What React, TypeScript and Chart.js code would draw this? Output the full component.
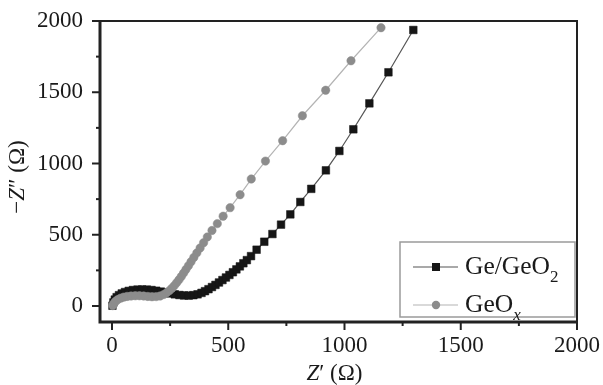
import React, { useEffect, useRef } from 'react';
import { Chart, registerables } from 'chart.js';

Chart.register(...registerables);

// Ge/GeO2 (black squares): Z' and -Z'' in ohms
const geGeO2Zre = [2, 6, 12, 20, 30, 42, 56, 72, 90, 110, 130, 150, 170, 190, 210, 230, 250, 270, 290, 310, 330, 350, 368, 385, 400, 415, 430, 445, 460, 475, 490, 505, 520, 535, 550, 565, 580, 598, 622, 655, 690, 727, 767, 810, 857, 920, 978, 1038, 1107, 1189, 1296];
const geGeO2Zim = [2, 25, 45, 62, 76, 88, 98, 106, 112, 115, 116, 115, 112, 107, 101, 95, 88, 82, 77, 74, 73, 76, 82, 92, 104, 118, 133, 148, 165, 182, 200, 218, 237, 257, 278, 300, 322, 350, 395, 451, 505, 571, 643, 730, 822, 952, 1088, 1240, 1422, 1640, 1937];

// GeOx (grey circles)
const geOxZre = [3, 8, 15, 25, 37, 50, 65, 82, 100, 118, 136, 154, 172, 190, 207, 222, 235, 247, 258, 268, 278, 288, 298, 308, 318, 329, 340, 352, 365, 379, 394, 410, 430, 453, 478, 508, 551, 599, 660, 734, 819, 919, 1028, 1157];
const geOxZim = [3, 18, 32, 45, 55, 62, 67, 70, 72, 72, 70, 67, 65, 66, 70, 80, 93, 108, 125, 143, 163, 184, 207, 231, 256, 283, 311, 341, 373, 407, 444, 484, 530, 578, 630, 690, 781, 891, 1017, 1160, 1335, 1514, 1721, 1953];

const xTickValues = [0, 500, 1000, 1500, 2000];
const yTickValues = [0, 500, 1000, 1500, 2000];
const minorTickValues = [250, 750, 1250, 1750];

const seriesLabels = ['Ge/GeO2', 'GeOx'];
type Seg = { t: string; sub?: boolean; italic?: boolean };
const legendSegments: Seg[][] = [
  [{ t: 'Ge/GeO' }, { t: '2', sub: true }],
  [{ t: 'GeO' }, { t: 'x', sub: true, italic: true }],
];
const xTitle: Seg[] = [{ t: 'Z', italic: true }, { t: '\u2032 (\u03A9)' }];
const yTitle: Seg[] = [{ t: '\u2212' }, { t: 'Z', italic: true }, { t: '\u2033 (\u03A9)' }];

const FONT = '"Liberation Serif", "Times New Roman", serif';
const AXIS = '#222';

function segFont(s: Seg, size: number) {
  const sz = s.sub ? Math.round(size * 0.68) : size;
  return `${s.italic ? 'italic ' : ''}${sz}px ${FONT}`;
}

function drawSegs(ctx: CanvasRenderingContext2D, segs: Seg[], x: number, y: number, size: number, align: 'left' | 'center') {
  let total = 0;
  const widths = segs.map((s) => {
    ctx.font = segFont(s, size);
    const w = ctx.measureText(s.t).width;
    total += w;
    return w;
  });
  let cx = align === 'center' ? x - total / 2 : x;
  ctx.textAlign = 'left';
  ctx.textBaseline = 'alphabetic';
  segs.forEach((s, i) => {
    ctx.font = segFont(s, size);
    ctx.fillText(s.t, cx, s.sub ? y + size * 0.3 : y);
    cx += widths[i];
  });
}

const decorPlugin = {
  id: 'decor',
  afterDraw(chart: any) {
    const { ctx, chartArea: ca, scales } = chart;
    const xs = scales.x;
    const ys = scales.y;
    ctx.save();
    ctx.strokeStyle = AXIS;
    ctx.fillStyle = AXIS;
    // frame
    ctx.lineWidth = 2;
    ctx.beginPath();
    ctx.moveTo(ca.left, ca.top);
    ctx.lineTo(ca.right, ca.top);
    ctx.lineTo(ca.right, ca.bottom);
    ctx.stroke();
    ctx.lineWidth = 3;
    ctx.beginPath();
    ctx.moveTo(ca.left, ca.top - 1);
    ctx.lineTo(ca.left, ca.bottom);
    ctx.lineTo(ca.right + 1, ca.bottom);
    ctx.stroke();
    // ticks
    ctx.lineWidth = 2;
    const drawTick = (v: number, len: number) => {
      const px = xs.getPixelForValue(v);
      ctx.beginPath();
      ctx.moveTo(px, ca.bottom);
      ctx.lineTo(px, ca.bottom + len);
      ctx.stroke();
      const py = ys.getPixelForValue(v);
      ctx.beginPath();
      ctx.moveTo(ca.left, py);
      ctx.lineTo(ca.left - len, py);
      ctx.stroke();
    };
    xTickValues.forEach((v) => drawTick(v, 8));
    minorTickValues.forEach((v) => drawTick(v, 4));

    // axis titles
    ctx.fillStyle = '#1a1a1a';
    drawSegs(ctx, xTitle, (ca.left + ca.right) / 2 - 4, 380, 23, 'center');
    ctx.save();
    ctx.translate(24, 177);
    ctx.rotate(-Math.PI / 2);
    drawSegs(ctx, yTitle, 0, 0, 23, 'center');
    ctx.restore();

    // legend
    const lx = 400;
    const ly = 242;
    const lr = ca.right - 2;
    const lb = 317;
    ctx.fillStyle = '#fff';
    ctx.fillRect(lx, ly, lr - lx, lb - ly);
    ctx.strokeStyle = '#9a9a9a';
    ctx.lineWidth = 1.5;
    ctx.strokeRect(lx, ly, lr - lx, lb - ly);
    const rows = [267, 305];
    chart.data.datasets.forEach((ds: any) => {
      const idx = ds.legendIndex;
      const ry = rows[idx];
      ctx.strokeStyle = ds.borderColor;
      ctx.lineWidth = 1.2;
      ctx.beginPath();
      ctx.moveTo(413, ry);
      ctx.lineTo(458, ry);
      ctx.stroke();
      ctx.fillStyle = ds.pointBackgroundColor;
      if (ds.pointStyle === 'rect') {
        ctx.fillRect(436 - 4, ry - 4, 8, 8);
      } else {
        ctx.beginPath();
        ctx.arc(436, ry, 4.2, 0, Math.PI * 2);
        ctx.fill();
      }
      ctx.fillStyle = '#1a1a1a';
      drawSegs(ctx, legendSegments[idx], 465, ry + 7, 25.5, 'left');
    });
    ctx.restore();
  },
};

const zeroPad = (s: any) => {
  s.paddingTop = 0;
  s.paddingBottom = 0;
  s.paddingLeft = 0;
  s.paddingRight = 0;
};

export default function App() {
  const ref = useRef<HTMLCanvasElement | null>(null);
  useEffect(() => {
    if (!ref.current) return;
    const chart = new Chart(ref.current, {
      type: 'scatter',
      data: {
        datasets: [
          {
            label: seriesLabels[1],
            legendIndex: 1,
            data: geOxZre.map((x, i) => ({ x, y: geOxZim[i] })),
            showLine: true,
            borderColor: '#b4b4b4',
            borderWidth: 1.2,
            pointStyle: 'circle',
            pointRadius: 4.2,
            pointBackgroundColor: '#8c8c8c',
            pointBorderColor: '#8c8c8c',
            pointBorderWidth: 0.5,
            order: 0,
          } as any,
          {
            label: seriesLabels[0],
            legendIndex: 0,
            data: geGeO2Zre.map((x, i) => ({ x, y: geGeO2Zim[i] })),
            showLine: true,
            borderColor: '#555555',
            borderWidth: 1.2,
            pointStyle: 'rect',
            pointRadius: 5.4,
            pointBackgroundColor: '#161616',
            pointBorderColor: '#161616',
            pointBorderWidth: 0.5,
            order: 1,
          } as any,
        ],
      },
      options: {
        animation: false,
        responsive: false,
        devicePixelRatio: 1,
        layout: { padding: { top: 21, right: 26, left: 0, bottom: 0 } },
        plugins: { legend: { display: false }, tooltip: { enabled: false } },
        scales: {
          x: {
            type: 'linear',
            min: -51.6,
            max: 2000,
            grid: { display: false, drawTicks: false },
            border: { display: false },
            afterBuildTicks: (s: any) => {
              s.ticks = xTickValues.map((v) => ({ value: v }));
            },
            afterFit: (s: any) => {
              s.height = 63;
              zeroPad(s);
            },
            ticks: {
              padding: 10,
              maxRotation: 0,
              autoSkip: false,
              color: '#1a1a1a',
              font: { family: FONT, size: 23 },
              callback: (v: any) => String(v),
            },
          },
          y: {
            type: 'linear',
            min: -112.3,
            max: 2000,
            grid: { display: false, drawTicks: false },
            border: { display: false },
            afterBuildTicks: (s: any) => {
              s.ticks = yTickValues.map((v) => ({ value: v }));
            },
            afterFit: (s: any) => {
              s.width = 100;
              zeroPad(s);
            },
            ticks: {
              padding: 17,
              autoSkip: false,
              color: '#1a1a1a',
              font: { family: FONT, size: 23 },
              callback: (v: any) => String(v),
            },
          },
        },
      },
      plugins: [decorPlugin],
    });
    return () => chart.destroy();
  }, []);
  return (
    <div style={{ position: 'absolute', left: 0, top: 0, width: 603, height: 385, background: '#fff' }}>
      <canvas ref={ref} width={603} height={385} style={{ display: 'block' }} />
    </div>
  );
}
